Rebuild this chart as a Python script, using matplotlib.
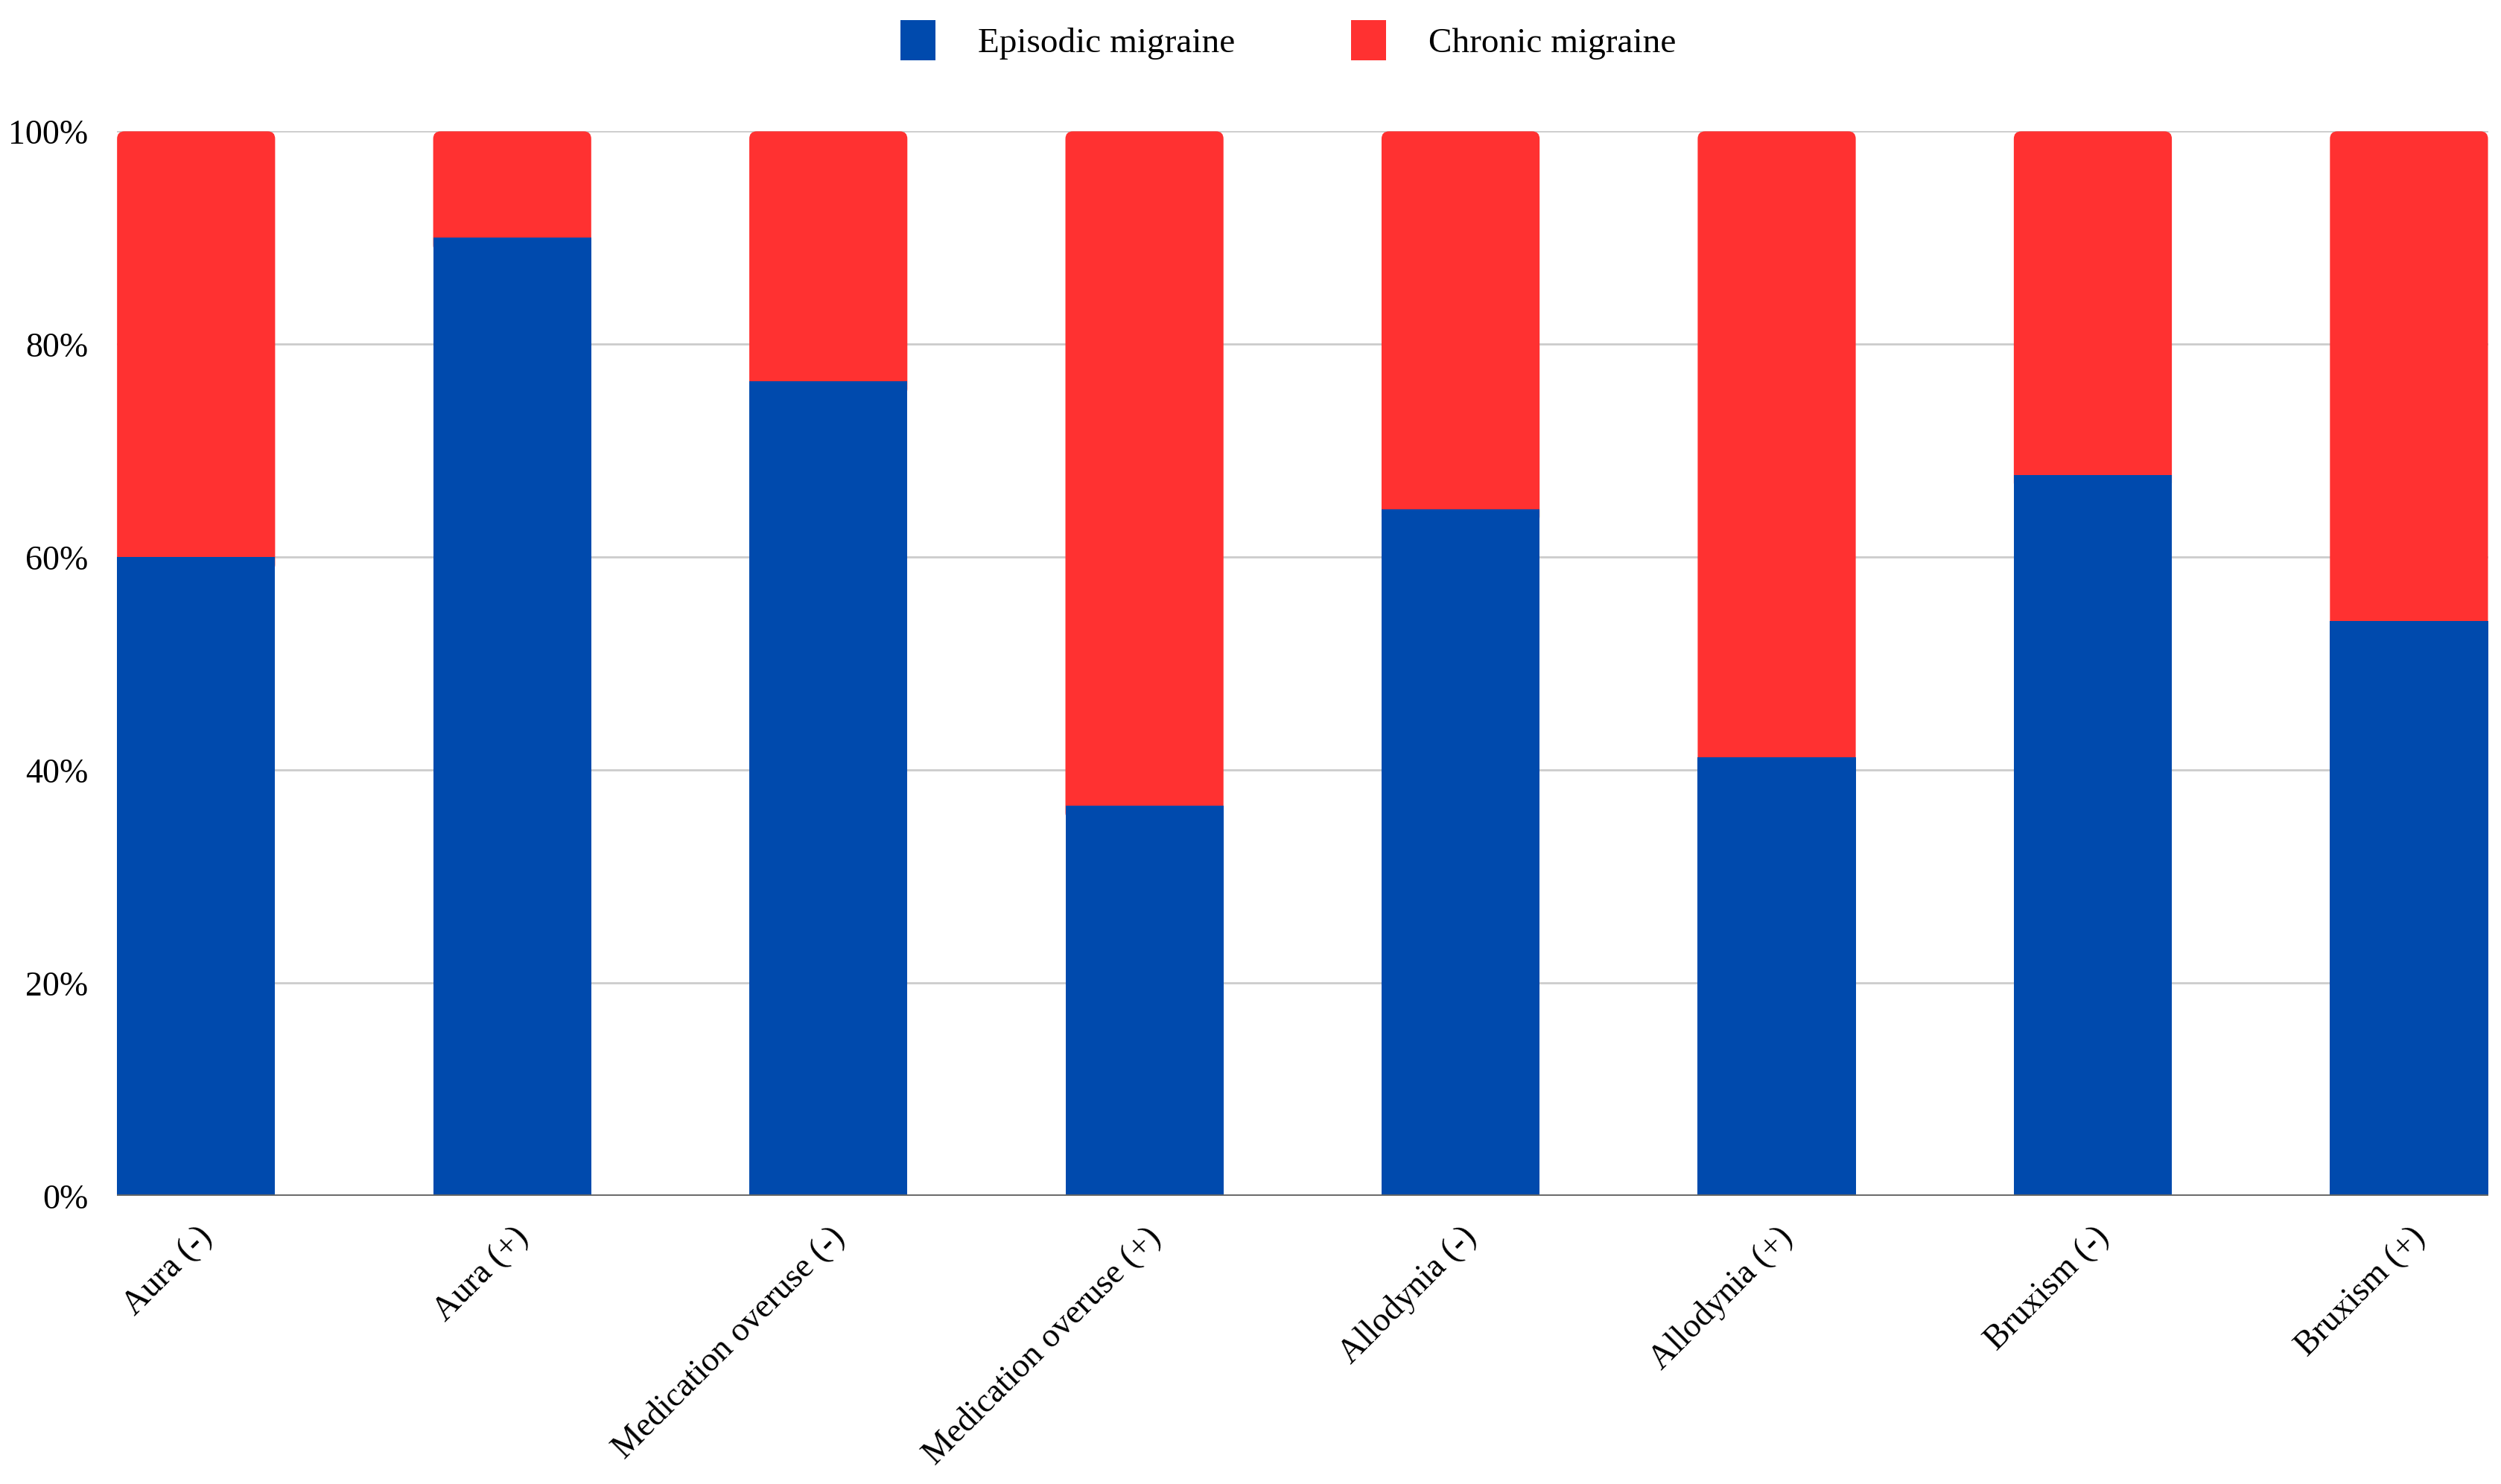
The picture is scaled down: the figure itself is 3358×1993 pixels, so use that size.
import matplotlib
matplotlib.use('Agg')
import matplotlib.pyplot as plt
from matplotlib.patches import Patch, FancyBboxPatch
from matplotlib.ticker import PercentFormatter

# Data (share of patients, %)
categories = ['Aura (-)', 'Aura (+)', 'Medication overuse (-)', 'Medication overuse (+)',
              'Allodynia (-)', 'Allodynia (+)', 'Bruxism (-)', 'Bruxism (+)']
episodic = [60.0, 90.0, 76.5, 36.7, 64.5, 41.2, 67.7, 54.0]
chronic = [100 - v for v in episodic]

blue = '#004aad'
red = '#ff3131'

plt.rcParams['font.family'] = ['Liberation Serif', 'DejaVu Serif']

fig = plt.figure(figsize=(33.58, 19.93), dpi=100)
ax = fig.add_axes([0.0468, 0.194, 0.948, 0.7175])

x = range(len(categories))
blue_bars = ax.bar(x, episodic, width=0.5, color=blue, zorder=3)
red_bars = ax.bar(x, chronic, width=0.5, bottom=episodic, color=red, zorder=2)

ax.set_xlim(-0.25, len(categories) - 0.75)
ax.set_ylim(0, 100)

# round the top corners of the red segments (bottom corners hide behind blue)
px_x = 7.5 / (0.948 * 3358)
px_y = 100 / (0.7175 * 1993)
r = 10 * px_x
for b in red_bars:
    b.set_visible(False)
    ext = 20 * px_y
    fb = FancyBboxPatch((b.get_x(), b.get_y() - ext), b.get_width(), b.get_height() + ext,
                        boxstyle=f'round,pad=0,rounding_size={r}',
                        mutation_aspect=px_y / px_x, facecolor=red, edgecolor='none', zorder=2)
    ax.add_patch(fb)

ax.set_yticks([0, 20, 40, 60, 80, 100])
ax.yaxis.set_major_formatter(PercentFormatter(decimals=0))
ax.grid(axis='y', color='#cccccc', linewidth=2, zorder=0)
ax.axhline(0, color='#666666', linewidth=3.5, zorder=4)

for s in ax.spines.values():
    s.set_visible(False)

ax.set_xticks(list(x))
ax.set_xticklabels(categories, rotation=45, ha='right', rotation_mode='anchor')
ax.tick_params(axis='x', length=0, pad=24, labelsize=33)
ax.tick_params(axis='y', length=0, pad=28, labelsize=33)

handles = [Patch(facecolor=blue, label='Episodic migraine'),
           Patch(facecolor=red, label='Chronic migraine')]
fig.legend(handles=handles, loc='center', bbox_to_anchor=(0.515, 0.973), ncol=2,
           frameon=False, fontsize=34, handlelength=1.0, handleheight=1.4,
           handletextpad=1.2, columnspacing=3.3)

fig.savefig('out.png', dpi=100)
